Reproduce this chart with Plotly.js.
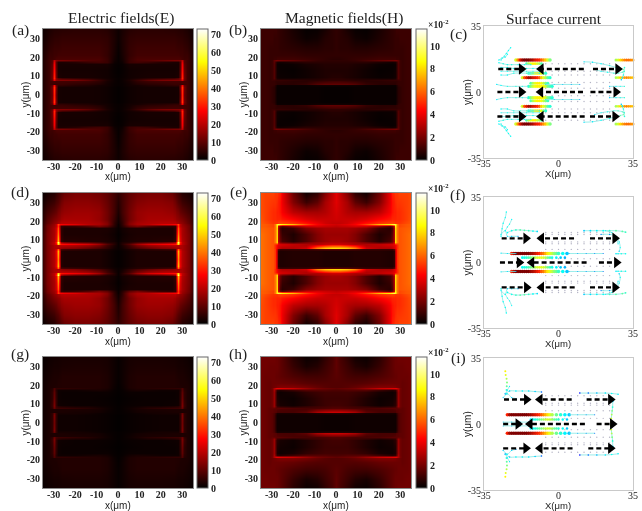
<!DOCTYPE html>
<html><head><meta charset="utf-8">
<script src="https://cdn.plot.ly/plotly-3.0.1.min.js"></script>
<style>html,body{margin:0;padding:0;background:#fff}#chart{width:642px;height:511px;filter:blur(0.45px)}</style>
</head><body><div id="chart"></div>
<script>
// Quadrant tables: columns are x>=0, rows are y>=0 (the field is mirrored about both axes)
const yRows = [0,4,5,5.7,7,7.8,8.6,9.5,13,16.5,17.4,18.2,19,21,25,30,35];
const xColsA = [0,2,5,9,14,20,26,28.2,29.0,30,31.0,32.0,33.5,35];
const xColsB = [0,2,5,9,14,20,26,27.5,28.2,29,29.8,30.8,33,35];
const xColsD = [0,2,5,9,14,20,25,26.4,27.1,28,28.9,29.9,33,35];
const xColsE = [0,2,5,9,14,20,25,26.2,26.9,27.7,28.6,29.6,33,35];
const zA = [
[.4,.8,1.5,2,2.2,2.2,2.2,2.4,10,31,11,6.5,5,3.5],
[.4,.8,1.5,2,2.2,2.2,2.2,2.4,12,33,12,6.5,5,3.5],
[.8,1,2,2.4,3.5,4,5,5,10,27,10,6.5,5,3.5],
[.8,1,2,3.5,4.5,5,6,6,6,6.5,6.5,6.5,5,3.5],
[.8,1.2,2.5,5,6.5,7,7,7,7,7.5,7,6.5,5,3.5],
[.8,1.2,3,6,10,13,14,14,15,24,11,6.5,5,3.5],
[.8,1.2,2,3,4.5,5.5,7,9,14,32,12,6.5,5,3.5],
[.6,1,1.8,2.2,2.5,2.5,2.5,3,11,31,12,6.5,5,3.5],
[.4,.8,1.8,2,2.2,2.2,2.2,2.5,10,28,11,6.5,5,3.5],
[.6,1,2.5,2.5,2.5,2.5,2.5,2.5,9,26,10,6.5,5,3.5],
[.8,1.5,6,7,6,4,3,3,9,24,9,6.5,5,3.5],
[.8,2,6,8,9,11,13,13,14,20,9,6.5,5,3.5],
[.8,2,6,8,8,8,8,8,8,7,6.5,6.5,4.8,3.5],
[.8,2.5,5.5,7,7,7,7,7,6.5,6.5,6,6,4.5,3.2],
[1,2.8,5.5,6.5,6.5,6.5,6.5,6,6,6,5.5,5,3.8,3],
[1.5,3,5,5.5,5.5,5.5,5.5,5,5,4.8,4.4,4,3,2.2],
[1.5,2.6,4,4.5,4.5,4.5,4.2,4,3.8,3.8,3.4,3,2.2,1.8]];
const zD = [
[.5,1,2,3,3,3,3,4,16,43,24,19,13,7],
[.5,1,2,3,3,3,3,4,18,47,25,19,13,7],
[1,1.5,3,4,5,6,7,8,16,38,22,18,13,7],
[1,2,5,8,11,14,15,16,17,18,18,18,13,7],
[1,3,7,13,17,19,20,20,20,20,19,18,13,7],
[1,4,9,17,23,26,28,29,33,52,26,20,13,7],
[1,3,4,7,9,10,13,16,28,64,30,20,13,7],
[.8,2,3,3.5,3.5,4,4,6,18,47,25,19,13,7],
[.5,1.5,2.5,3,3,3,3,5,16,41,23,18,13,6.5],
[.8,2,3,3,3,3,3,5,14,37,22,18,12,6],
[1,4,10,13,9,6,5,6,14,33,20,17,12,6],
[1,5,14,18,20,24,26,27,27,35,20,16,11,5.5],
[1.5,5,14,18,19,20,20,20,19,18,16,15,10,5.5],
[2,6,12,16,18,18,18,17,16,15,14,13,9,4.5],
[3,7,12,16,17,17,16,15,14,13,11,10,7,4],
[4,7,11,14,15,15,14,12,11,9,8,6.5,4.5,2.5],
[5,7,10,12,13,13,11,9,8,7,5.5,4,2.5,1.2]];
const zG = [
[.3,.5,.9,1.2,1.4,1.6,1.6,1.6,5,12,5,3,2.4,1.8],
[.3,.5,.9,1.2,1.4,1.6,1.6,1.6,5,13,5,3,2.4,1.8],
[.5,.7,1,1.4,2,2.4,2.4,2.4,5,11,5,3,2.4,1.8],
[.5,.7,1.2,2,2.4,2.4,2.8,2.8,2.8,3,3,3,2.4,1.8],
[.5,.8,1.5,2.4,2.8,3,3,3,3,3.4,3,3,2.4,1.8],
[.5,.8,1.6,2.6,4,5,6,6,7,11,5,3,2.4,1.8],
[.5,.8,1.2,1.6,2.4,2.4,3.2,4,6,13,6,3,2.4,1.8],
[.4,.7,1,1.2,1.2,1.2,1.5,1.7,5,13,6,3,2.4,1.8],
[.3,.5,.8,1,1.2,1.2,1.2,1.5,5,11,5,3,2.4,1.8],
[.4,.7,1.2,1.2,1.2,1.2,1.2,1.5,4.5,10,5,3,2.4,1.8],
[.5,.8,2,2.6,2.2,1.6,1.6,1.6,4,9,4.5,3,2.4,1.8],
[.5,1.2,2.8,3.5,4,4.5,5,5,5,8,4,3,2.4,1.8],
[.5,1.2,3,3.6,3.6,3.6,3.6,3.4,3.4,3.2,3,3,2.4,1.8],
[.6,1.5,3,3.6,3.6,3.6,3.6,3.4,3,3,3,2.8,2.2,1.8],
[.8,1.5,3,3.6,3.6,3.6,3.6,3,3,3,2.8,2.4,2,1.5],
[.8,1.5,2.6,3,3,3,2.8,2.4,2.4,2.4,2.2,2,1.6,1.2],
[.8,1.4,2.4,2.6,2.6,2.6,2.4,2.2,2,2,1.8,1.6,1.2,1]];
const zB = [
[.1,.1,.1,.15,.15,.15,.15,.15,.3,.7,.8,.9,1,1],
[.1,.1,.1,.15,.15,.15,.15,.15,.3,.7,.8,.9,1,1],
[.3,.3,.3,.3,.2,.2,.2,.2,.4,.8,.9,.9,1,1],
[1.6,1.6,1.6,1.4,.9,.7,.7,.7,.8,.9,.9,.9,1,1],
[1.1,1.1,1,.9,.7,.7,.8,.8,.8,.9,.9,.9,1,1],
[.8,.8,.8,.7,.7,.8,.9,.9,.9,1,1,.9,1,1],
[.7,.7,.6,.5,.4,.3,.3,.4,.7,1.4,1,.9,1,1],
[.6,.6,.5,.4,.25,.15,.2,.3,.6,1.4,1,.9,1,1],
[.5,.5,.5,.4,.25,.1,.15,.25,.6,1.4,1,.9,1,1],
[.6,.6,.6,.5,.4,.2,.15,.2,.6,1.4,1,.9,1,1],
[.7,.7,.7,.7,.7,.5,.3,.4,.7,1.5,1,.9,1,1],
[.8,.8,.8,.9,1.2,1.6,1.9,2,2,1.6,1,.9,1,1],
[.7,.7,.8,.9,1,1.1,1.1,1.1,1,1,.9,.9,1,1],
[.8,.8,.8,.8,.8,.9,.9,.9,.9,.9,.9,.9,1,1],
[.8,.7,.7,.6,.6,.7,.8,.9,.9,.9,.9,.9,1,1],
[.8,.7,.6,.3,.2,.5,.8,.9,.9,.9,1,1,1,1],
[.8,.7,.4,.15,.1,.4,.8,.9,1,1,1,1,1,1]];
const zE = [
[.5,.5,.5,.6,.6,.6,.5,.5,.8,3,5.2,5.7,6,6.2],
[.5,.5,.5,.6,.6,.6,.5,.5,.8,3,5.2,5.7,6,6.2],
[1.5,1.5,1.5,1.3,1,1,1,1,1.6,3.2,5.2,5.7,6,6.2],
[8,8,7.6,6.5,3.5,3,3,3.2,3.6,4,5,5.7,6,6.2],
[5,5,4.6,4,3,3.2,3.5,3.6,3.8,4.2,5,5.7,6,6.2],
[3.5,3.5,3.3,3,3,3.2,3.5,3.6,4,5,5.3,5.7,6,6.2],
[3,3,2.9,2.6,2,1.2,1.8,2.2,3.5,8,6.4,5.7,6,6.2],
[2.8,2.8,2.6,2.2,1.3,.6,1.2,1.8,3,8,6.4,5.7,6,6.2],
[2.6,2.6,2.6,2.2,1.3,.5,.9,1.5,3,8,6.3,5.7,6,6.2],
[2.8,2.8,2.8,2.6,2.2,1,.7,1.2,3,8,6.3,5.7,5.9,6],
[3.2,3.3,3.4,3.6,3.4,2.5,1.5,2,3.5,8.5,6.3,5.5,5.8,5.9],
[3.5,3.6,3.8,4.2,5.5,7.5,8.5,9,9.5,9,6.4,5.5,5.8,5.9],
[3.3,3.3,3.5,4,4.6,5.2,5.5,5.5,5.4,5.2,5.2,5.2,5.6,5.8],
[3.5,3.4,3.4,3.4,3.7,4.3,4.7,4.9,4.9,4.9,5,5,5.4,5.7],
[3.6,3.4,3,2.8,2.8,3.2,4.2,4.6,4.8,4.8,5,5,5.4,5.6],
[3.8,3.4,2.8,1.6,1,2.2,4,4.6,4.8,5,5.2,5.2,5.4,5.6],
[3.8,3.2,2.2,.8,.3,1.8,4,4.8,5,5.2,5.2,5.4,5.4,5.6]];
const zH = [
[.2,.2,.2,.25,.25,.25,.25,.25,.5,1.2,1.5,1.6,1.8,1.9],
[.2,.2,.2,.25,.25,.25,.25,.25,.5,1.2,1.5,1.6,1.8,1.9],
[.6,.6,.6,.5,.4,.4,.4,.4,.7,1.3,1.5,1.6,1.8,1.9],
[3.4,3.4,3.2,2.8,1.6,1.2,1.2,1.2,1.4,1.5,1.6,1.6,1.8,1.9],
[2,2,1.9,1.7,1.2,1.2,1.3,1.4,1.5,1.5,1.6,1.6,1.8,1.9],
[1.4,1.4,1.3,1.2,1.2,1.3,1.5,1.5,1.5,1.7,1.7,1.6,1.8,1.9],
[1.2,1.2,1.1,1,.8,.5,.7,.9,1.4,2.6,1.9,1.7,1.8,1.9],
[1.1,1.1,1,.8,.5,.25,.4,.7,1.1,2.6,1.9,1.7,1.8,1.9],
[1,1,1,.8,.5,.2,.3,.5,1.1,2.6,1.9,1.7,1.8,1.9],
[1.1,1.1,1.1,1,.8,.4,.25,.4,1.1,2.6,1.9,1.7,1.8,1.9],
[1.3,1.3,1.4,1.4,1.4,1,.6,.8,1.4,2.8,1.9,1.7,1.8,1.9],
[1.6,1.7,1.8,2,2.6,3.4,3.8,3.9,3.8,3,2,1.7,1.8,1.9],
[1.4,1.4,1.5,1.7,2,2.2,2.2,2.1,2,1.9,1.8,1.7,1.8,1.9],
[1.4,1.4,1.4,1.4,1.5,1.7,1.8,1.8,1.8,1.8,1.8,1.7,1.8,1.9],
[1.5,1.4,1.2,1.1,1.1,1.3,1.6,1.7,1.7,1.8,1.8,1.8,1.8,1.9],
[1.6,1.3,1,.6,.4,.9,1.6,1.8,1.8,1.8,1.8,1.8,1.9,1.9],
[1.6,1.2,.8,.3,.2,.7,1.6,1.8,1.8,1.9,1.9,1.9,1.9,1.9]];

const hotScale = [[0,'#000000'],[0.375,'#ff0000'],[0.75,'#ffff00'],[1,'#ffffff']];
const jetScale = [[0,'#00007f'],[0.11,'#0000ff'],[0.35,'#00ffff'],[0.5,'#7fff7f'],[0.65,'#ffff00'],[0.85,'#ff2000'],[1,'#7f0000']];
const eTicks = [0,10,20,30,40,50,60,70];
const hTicks = [0,2,4,6,8,10];
const mapTicks = [-30,-20,-10,0,10,20,30];
const curTicks = [-35,0,35];

// Black dashed arrows: [x start, x end, y]
const arrowsC = [[-28.3,-17.4,12.2],[11.9,-8.2,12.2],[16.2,27.9,12.2],[-28.7,-17.4,0],[11.5,-8.4,0],[15,27,0],[-28.7,-17.4,-13],[12.3,-8.2,-13],[14.8,26.5,-13]];
const arrowsF = [[-26.7,-15.3,12.9],[7.3,-8,12.9],[14.8,26.5,12.9],[-27.5,-18.4,0],[13.2,-12.6,0],[19,27.3,0],[-26.7,-15,-13.3],[7.6,-8,-13.3],[14.8,26.5,-13.3]];
const arrowsI = [[-25.6,-15,13],[6.2,-8.7,13],[13.2,24.5,13],[-26,-19,0],[12.4,-13.4,0],[17.9,25.4,0],[-26,-15.3,-12.9],[6.6,-8.7,-12.9],[14,24.5,-12.9]];

// Coloured current streaks (upper half, mirrored in y): [x list, y list, colour value list, marker size]
const streaksC = [
[[-20,-19,-18,-17,-16,-15,-14,-13,-12,-11,-10,-9,-8,-7,-6,-5,-4],[17,17,17,17,17,17,17,17,17,17,17,17,17,17,17,17,17],[.6,.75,.88,.96,1,1,1,.97,.95,.9,.87,.85,.8,.75,.7,.6,.5],3.6],
[[27,28,29,30,31,32,33,34,35,36,37],[17,17,17,17,17,17,17,17,17,17,17],[.55,.6,.68,.72,.76,.78,.78,.76,.74,.72,.7],3],
[[27,28,29,30,31,32,33,34,35,36],[7.6,7.6,7.6,7.6,7.6,7.6,7.6,7.6,7.6,7.6],[.55,.6,.68,.72,.74,.76,.74,.72,.7,.66],2.6],
[[-17,-16,-15,-14,-13,-12,-11,-10,-9,-8,-7,-6,-5,-4],[7.6,7.6,7.6,7.6,7.6,7.6,7.6,7.6,7.6,7.6,7.6,7.6,7.6,7.6],[.6,.8,.88,.95,.95,.9,.88,.85,.8,.7,.62,.55,.45,.4],3.2],
[[-14,-13,-12,-11,-10,-9,-8,-7,-6,-5,-4,-3],[3,3,3,3,3,3,3,3,3,3,3,3],[.42,.5,.58,.63,.66,.66,.66,.65,.6,.5,.45,.4],3.4],
[[-13,-12,-11,-10,-9,-8,-7,-6,-5],[4.6,4.6,4.6,4.6,4.6,4.6,4.6,4.6,4.6],[.45,.55,.62,.66,.66,.64,.58,.5,.42],3],
[[-14,-13,-12,-11,-10,-9,-8,-7,-6],[10,10,10,10,10,10,10,10,10],[.4,.45,.55,.62,.66,.66,.62,.5,.4],3],
[[-15,-14,-13,-12,-11,-10,-9,-8],[15,15,15,15,15,15,15,15],[.45,.55,.62,.66,.66,.6,.55,.45],2.8],
[[-27,-24,-21,-18,-15,-12,-9],[9,9,10,10,10,10,10],[.35,.36,.38,.4,.45,.4,.35],1.4],
[[-27,-24,-21,-18,-15,-12,-9],[13,13,12.5,12.5,12.5,12.5,12.5],[.35,.36,.38,.38,.38,.36,.35],1.4],
[[-28,-26,-24,-22,-19,-16,-13],[15.5,15,14.5,14.5,14.5,14.5,14.5],[.36,.38,.38,.38,.38,.36,.35],1.4],
[[-27,-24,-21,-18,-15,-12,-9],[11,11,11,11,11,11,11],[.35,.36,.38,.38,.38,.36,.34],1.2],
[[-27,-25.5,-24.5,-23.5,-22.5],[17,19,20.5,22,23.5],[.36,.36,.36,.36,.36],1.4],
[[-28,-26.5,-25,-24],[17,18,18.5,20],[.35,.36,.36,.36],1.4],
[[-29,-27,-24,-20,-17,-14],[4,3.5,3,3,3,3],[.33,.35,.38,.4,.38,.36],1.3],
[[12,16,20,24,27,29,30.5],[16,15.8,15,14,13,12.5,12],[.32,.33,.35,.38,.42,.46,.5],1.4],
[[17,20,23,26,28,30,31],[12,11,10.5,10,10,10.5,11],[.32,.34,.36,.4,.42,.44,.42],1.2],
[[31,30.8,30.5,30,29.5],[13,11,9,7.5,6.5],[.4,.42,.38,.34,.3],1.6],
[[24,27,29,31],[3,3,3,3],[.3,.34,.38,.4],1.2],
[[-6,-2,2,6,10],[4,4,4,4,4],[.33,.3,.28,.25,.22],1]
];
const streaksF = [
[[-22,-21,-20,-19,-18,-17,-16,-15,-14,-13,-12,-11,-10,-9,-8,-7,-6,-5,-4,-3,-2,-1,0,2,4],[4.8,4.8,4.8,4.8,4.8,4.8,4.8,4.8,4.8,4.8,4.8,4.8,4.8,4.8,4.8,4.8,4.8,4.8,4.8,4.8,4.8,4.8,4.8,4.8,4.8],[.85,.95,1,1,1,1,1,1,1,.97,.95,.92,.88,.85,.8,.77,.72,.67,.62,.58,.52,.48,.42,.36,.3],3.6],
[[-17,-16,-15,-14,-13,-12,-11,-10,-9,-8,-7,-6,-5,-4,-3,-1,1,3],[2.6,2.6,2.6,2.6,2.6,2.6,2.6,2.6,2.6,2.6,2.6,2.6,2.6,2.6,2.6,2.6,2.6,2.6],[.36,.38,.4,.44,.48,.52,.56,.6,.62,.62,.6,.55,.48,.42,.38,.34,.3,.28],2.6],
[[-24,-22,-20,-18,-16,-14,-12,-10],[16,17,17.4,17.4,17.2,17,16.8,16.6],[.36,.38,.42,.46,.46,.42,.36,.32],1.7],
[[12,15,18,21,24,27,30,31.5],[17,17,17,17,17,17,16.6,16.2],[.3,.32,.34,.36,.42,.46,.46,.42],1.8],
[[-27,-26.5,-26,-25,-24.5],[14,18,21,24,27],[.36,.36,.36,.36,.36],1.4],
[[-27,-25,-24,-22,-19],[15,17,14,14,14],[.35,.36,.3,.28,.25],1.2],
[[-25,-24,-23,-22],[17,19,20.5,23],[.36,.36,.36,.35],1.2],
[[-27,-24,-20],[5,4.8,4.8],[.33,.32,.3],1.2],
[[5,9,13,17,21],[4.8,4.8,4.8,4.8,4.8],[.28,.26,.24,.22,.2],1],
[[27,28,29.5,31.5],[4.7,4.7,4.7,4.7],[.33,.36,.38,.36],1.6],
[[20,24,27,28.5,29,28.5],[15,15,14,11,8,6],[.22,.24,.3,.34,.36,.3],1.3],
[[22,25,27,28],[17,16,13,10],[.34,.36,.36,.34],1.2]
];
const streaksI = [
[[-24,-23,-22,-21,-20,-19,-18,-17,-16,-15,-14,-13,-12,-11,-10,-9,-8,-7,-6,-5,-4,-3,-1,1,3,5],[4.9,4.9,4.9,4.9,4.9,4.9,4.9,4.9,4.9,4.9,4.9,4.9,4.9,4.9,4.9,4.9,4.9,4.9,4.9,4.9,4.9,4.9,4.9,4.9,4.9,4.9],[.85,.95,1,1,1,1,1,1,1,1,.98,.96,.93,.9,.87,.84,.8,.76,.72,.68,.62,.56,.48,.4,.34,.3],3.6],
[[-13,-12,-11,-10,-9,-8,-7,-6,-5,-4,-3,-2,-1,0,2,4],[2.4,2.4,2.4,2.4,2.4,2.4,2.4,2.4,2.4,2.4,2.4,2.4,2.4,2.4,2.4,2.4],[.34,.36,.38,.42,.46,.5,.54,.58,.6,.58,.54,.48,.44,.4,.36,.3],2.4],
[[-24.6,-24.4,-24.3,-24.2,-24.4,-24.8,-25],[16,18,20,22,24,26,28],[.36,.4,.46,.5,.56,.62,.66],2],
[[-25,-23,-20,-17,-14,-11,-8],[16,17.5,17.5,17.5,17.5,17.2,17],[.2,.3,.34,.34,.33,.3,.2],1.6],
[[-26,-24,-22,-20],[14,16,14,13.5],[.3,.34,.3,.25],1.2],
[[-25,-24,-23],[16,18,20],[.34,.34,.33],1.2],
[[5,9,13,17],[4.9,4.9,4.9,4.9],[.28,.26,.24,.2],1],
[[10,14,18,22,25,28],[16.4,16.4,16.4,16.4,16.2,15.8],[.12,.2,.28,.33,.36,.34],1.6],
[[25.5,25.4,25.2,25,24.8,24.6],[12,9,7,5,3,1],[.3,.4,.5,.56,.6,.62],1.8],
[[-26,-22,-18,-14],[1,1,1,1],[.3,.3,.28,.25],1]
];
// Faint grey arrow rows
const faintX = [-6,-3,0,3,6,9,12,15,18,21,24];
const faintYC = [15,11,9,5,2,-2,-5,-9,-11,-15];
const faintYF = [16,15,11,10,7,2,-2,-7,-10,-11,-15,-16];
const faintYI = [15,11,10,7,3,-3,-7,-10,-11,-15];

const W=642,H=511;
const mirrorAxis = a => a.slice(1).reverse().map(v=>-v).concat(a);
const mirrorRow = r => r.slice(1).reverse().concat(r);
const mirrorGrid = g => { const f=g.map(mirrorRow); return f.slice(1).reverse().concat(f); };

const panels = [
 {k:'',  x:[43,193],  y:[29,160],  z:zA, xs:xColsA, t:'e', cb:197},
 {k:'2', x:[261,411], y:[29,160],  z:zB, xs:xColsB, t:'h', cb:416},
 {k:'3', x:[43,193],  y:[193,324], z:zD, xs:xColsD, t:'e', cb:197},
 {k:'4', x:[261,411], y:[193,324], z:zE, xs:xColsE, t:'h', cb:416},
 {k:'5', x:[43,193],  y:[357,488], z:zG, xs:xColsA, t:'e', cb:197},
 {k:'6', x:[261,411], y:[357,488], z:zH, xs:xColsB, t:'h', cb:416}
];
const curPanels = [
 {k:'7', x:[484,633], y:[26,158],  a:arrowsC, s:streaksC, f:faintYC},
 {k:'8', x:[484,633], y:[197,328], a:arrowsF, s:streaksF, f:faintYF},
 {k:'9', x:[484,633], y:[358,490], a:arrowsI, s:streaksI, f:faintYI}
];
const layout = {width:W,height:H,margin:{l:0,r:0,t:0,b:0},showlegend:false,hovermode:false,
  paper_bgcolor:'#fff',plot_bgcolor:'#fff',annotations:[]};
const traces=[];
const paperText=(x,y,text,size,extra)=>layout.annotations.push(Object.assign({xref:'paper',yref:'paper',x:x/W,y:1-y/H,text,showarrow:false,
  font:{family:'"Liberation Serif"',size,color:'#222'},xanchor:'center',yanchor:'middle'},extra||{}));
const sansFont={family:'"Liberation Sans"',size:10,color:'#222'};
const ax = (dom,anchor,ticks,o) => Object.assign({domain:dom,anchor,range:[-35,35],tickvals:ticks,ticktext:ticks.map(String),
  ticks:'',showgrid:false,zeroline:false,showline:true,mirror:true,linecolor:'#8a8a8a',linewidth:1,
  tickfont:{family:'"Liberation Serif"',size:10,color:'#222',weight:700}},o||{});
panels.forEach(p=>{
  const xn='xaxis'+p.k, yn='yaxis'+p.k;
  layout[xn]=ax([p.x[0]/W,p.x[1]/W],'y'+p.k,mapTicks,{ticklabelstandoff:-3});
  layout[yn]=ax([1-p.y[1]/H,1-p.y[0]/H],'x'+p.k,mapTicks);
  paperText((p.x[0]+p.x[1])/2,p.y[1]+17,'x(μm)',10,{font:sansFont});
  paperText(p.x[0]-18,(p.y[0]+p.y[1])/2,'y(μm)',10,{font:sansFont,textangle:-90});
  const isE=p.t==='e';
  traces.push({type:'heatmap',x:mirrorAxis(p.xs),y:mirrorAxis(yRows),z:mirrorGrid(p.z),xaxis:'x'+p.k,yaxis:'y'+p.k,
    zsmooth:'best',zmin:0,zmax:isE?73:11.5,colorscale:hotScale,
    colorbar:{x:p.cb/W,xanchor:'left',xpad:0,ypad:0,y:1-(p.y[0]+p.y[1])/2/H,yanchor:'middle',lenmode:'pixels',len:p.y[1]-p.y[0],
      thickness:11,outlinecolor:'#666',outlinewidth:1,ticks:'',tickvals:isE?eTicks:hTicks,ticktext:(isE?eTicks:hTicks).map(String),
      tickfont:{family:'"Liberation Serif"',size:10,color:'#222',weight:700},ticklabelposition:'outside'}});
});
curPanels.forEach(p=>{
  const xn='xaxis'+p.k, yn='yaxis'+p.k;
  const font={family:'"Liberation Serif"',size:10,color:'#222'};
  const xSans={family:'"Liberation Sans"',size:9.5,color:'#222'};
  layout[xn]=ax([p.x[0]/W,p.x[1]/W],'y'+p.k,curTicks,{linecolor:'#c9c9c9',tickfont:font,ticklabelstandoff:-4});
  layout[yn]=ax([1-p.y[1]/H,1-p.y[0]/H],'x'+p.k,curTicks,{linecolor:'#c9c9c9',tickfont:font});
  paperText(558,p.y[1]+15.5,'X(μm)',9.5,{font:xSans});
  paperText(467,(p.y[0]+p.y[1])/2,'y(μm)',10,{font:sansFont,textangle:-90});
  p.f.forEach(y=>{
    traces.push({type:'scatter',mode:'markers',x:faintX,y:faintX.map(()=>y),xaxis:'x'+p.k,yaxis:'y'+p.k,
      marker:{size:1.4,color:'#b5b5c5',opacity:1},cliponaxis:false});
  });
  p.s.forEach(s=>{
    [1,-1].forEach(sign=>{
      traces.push({type:'scatter',mode:s[3]<2?'lines+markers':'markers',x:s[0],y:s[1].map(v=>v*sign),xaxis:'x'+p.k,yaxis:'y'+p.k,cliponaxis:false,
        line:{color:'#7fe8e4',width:0.8,shape:'spline'},
        marker:{size:s[3],color:s[2],colorscale:jetScale,cmin:0,cmax:1,opacity:1,symbol:'circle',line:{width:0}}});
    });
  });
  p.a.forEach(a=>{
    const dir=a[1]>a[0]?'triangle-right':'triangle-left';
    traces.push({type:'scatter',mode:'lines+markers',x:[a[0],a[1]],y:[a[2],a[2]],xaxis:'x'+p.k,yaxis:'y'+p.k,cliponaxis:false,
      line:{color:'#000',width:2.4,dash:'5px,3px'},
      marker:{size:[0,10],symbol:['circle',dir],color:'#000',opacity:1,line:{width:0}}});
  });
});
paperText(121,18,'Electric fields(E)',15.5);
paperText(344,18,'Magnetic fields(H)',15.5);
paperText(554,18,'Surface current',15.5);
[['(a)',20,30],['(b)',238,30],['(c)',458,34],['(d)',20,192],['(e)',238,192],['(f)',458,195],['(g)',20,354],['(h)',238,354],['(i)',458,358]]
 .forEach(l=>paperText(l[1],l[2],l[0],15.5));
[24,188,352].forEach(y=>paperText(438,y,'×10<sup>-2</sup>',9.5,{font:{family:'"Liberation Serif"',size:9.5,color:'#222',weight:700}}));
Plotly.newPlot('chart',traces,layout,{displayModeBar:false,staticPlot:true});
</script></body></html>
